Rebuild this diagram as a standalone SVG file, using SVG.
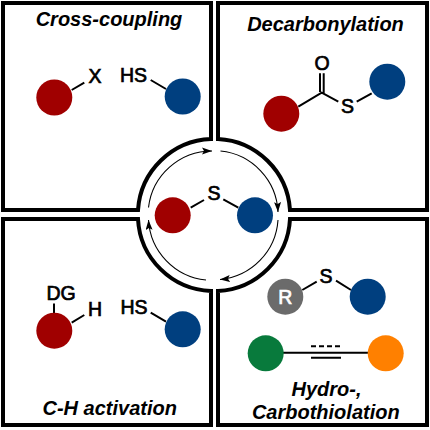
<svg xmlns="http://www.w3.org/2000/svg" width="430" height="430" viewBox="0 0 430 430">
<style>
.frame{fill:none;stroke:#000;stroke-width:4;stroke-linejoin:miter}
.bond{fill:none;stroke:#000;stroke-width:2;stroke-linecap:butt}
.cyc{fill:none;stroke:#000;stroke-width:1.1;marker-end:url(#ah)}
text{font-family:"Liberation Sans",Arial,sans-serif;fill:#000}
.l{font-size:19.5px;text-anchor:middle;stroke:#000;stroke-width:.7}
.t{font-size:20px;font-weight:700;font-style:italic;text-anchor:middle}
.red{fill:#a00000}.blue{fill:#003f7f}.gray{fill:#6b6b6b}.green{fill:#087a3c}.orange{fill:#ff8000}
</style>
<defs>
<marker id="ah" markerUnits="userSpaceOnUse" markerWidth="12" markerHeight="8" refX="10" refY="3.500" orient="auto"><path d="M0,0 L10,3.500 L0,7 L2,3.500 Z" fill="#000"/></marker>
</defs>
<rect width="430" height="430" fill="#fff"/>
<g id="frames">
<path class="frame" d="M3,210 L3,3 L211,3 L211,139 A76,76 0 0 0 138,210 Z"/>
<path class="frame" d="M218,139 L218,3 L427,3 L427,210 L290,210 A76,76 0 0 0 218,139 Z"/>
<path class="frame" d="M3,219 L3,425 L211,425 L211,291 A76,76 0 0 1 138,219 Z"/>
<path class="frame" d="M218,291 L218,425 L427,425 L427,219 L290,219 A76,76 0 0 1 218,291 Z"/>
</g>
<g id="connectors">
<path class="cyc" d="M148.500,207.500 A64,64 0 0 1 212,151"/>
<path class="cyc" d="M220.500,151 A64,64 0 0 1 278,212"/>
<path class="cyc" d="M278,220 A64,64 0 0 1 220,279.500"/>
<path class="cyc" d="M206,280 A64,64 0 0 1 148.500,220"/>
<path class="bond" d="M190.700,207.700 L204,200 M223.300,199.300 L238.300,207.700"/>
<path class="bond" d="M71.700,90 L84.300,82.700 M150.700,80 L166,89"/>
<path class="bond" d="M298.300,106.700 L321.700,92.700 L338.300,101.700 M356.700,101.700 L371.700,93.300 M320,73.300 V92 M323.700,73.300 V94"/>
<path class="bond" d="M302.300,290 L316.700,281.700 M336,280.700 L351,290"/>
<path class="bond" d="M280,352.700 H370 M311,357.700 H341"/>
<path class="bond" d="M311,346.300 H341" stroke-dasharray="5 3"/>
<path class="bond" d="M54,303.500 V313 M71.700,322.700 L84.300,315 M150.700,312.700 L166,321.700"/>
</g>
<g id="center-product">
<circle class="red" cx="172.700" cy="215.300" r="18"/>
<circle class="blue" cx="255" cy="215.300" r="18"/>
<text class="l" x="214" y="200.300">S</text>
</g>
<g id="cross-coupling">
<text class="t" x="109" y="26">Cross-coupling</text>
<circle class="red" cx="54.300" cy="97.500" r="18"/>
<circle class="blue" cx="182.700" cy="96.500" r="18"/>
<text class="l" x="95" y="82.700">X</text>
<text class="l" x="133.500" y="81.700">HS</text>
</g>
<g id="decarbonylation">
<text class="t" x="325.500" y="31">Decarbonylation</text>
<circle class="red" cx="281.300" cy="113.700" r="18"/>
<circle class="blue" cx="387.300" cy="81.700" r="18"/>
<text class="l" x="322" y="70.200">O</text>
<text class="l" x="347.500" y="113.200">S</text>
</g>
<g id="ch-activation">
<text class="t" x="109.700" y="415">C-H activation</text>
<circle class="red" cx="54.300" cy="330.700" r="18"/>
<circle class="blue" cx="182.700" cy="329.300" r="18"/>
<text class="l" x="61" y="299.700">DG</text>
<text class="l" x="95" y="316.200">H</text>
<text class="l" x="134" y="314.200">HS</text>
</g>
<g id="hydro-carbothiolation">
<circle class="gray" cx="285.300" cy="296.700" r="18"/>
<text class="l" x="285.300" y="303.700" style="fill:#fff;stroke:#fff">R</text>
<circle class="blue" cx="367.700" cy="296.700" r="18"/>
<text class="l" x="326" y="282.700">S</text>
<circle class="green" cx="265.700" cy="353.300" r="18"/>
<circle class="orange" cx="385.700" cy="353.300" r="18"/>
<text class="t" x="326.500" y="396">Hydro-,</text>
<text class="t" x="325.800" y="419">Carbothiolation</text>
</g>
</svg>
